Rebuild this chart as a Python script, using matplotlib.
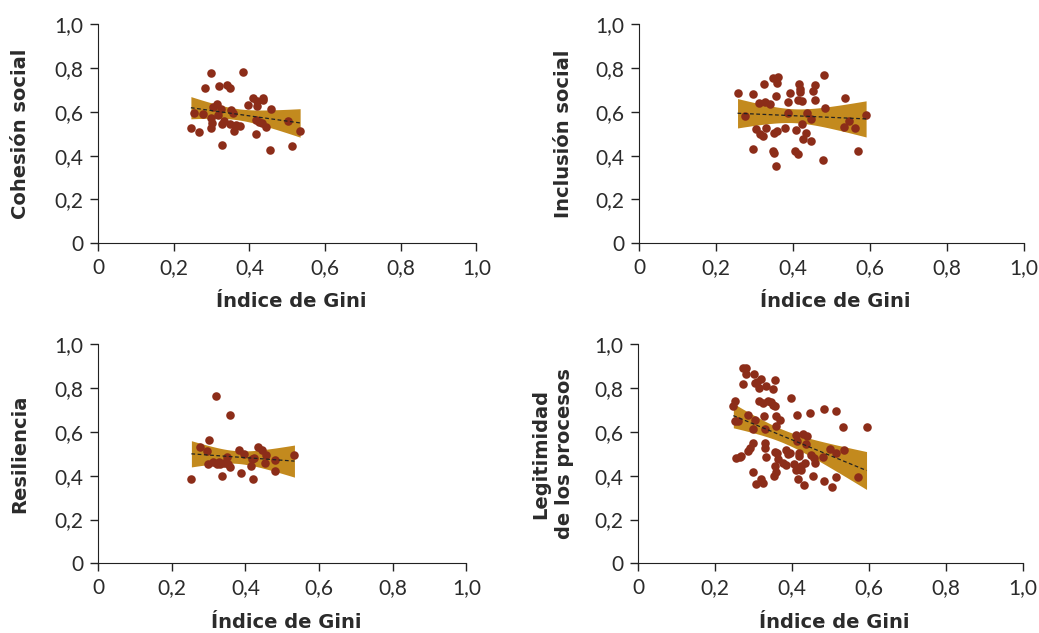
import numpy as np
import matplotlib
matplotlib.use("Agg")
import matplotlib.pyplot as plt

# Datos (Índice de Gini vs. dimensión)
cohesion_gini = [0.245, 0.253, 0.267, 0.278, 0.282, 0.299, 0.297, 0.299, 0.302, 0.303,
                 0.313, 0.319, 0.316, 0.324, 0.328, 0.328, 0.333, 0.341, 0.349, 0.349,
                 0.350, 0.357, 0.359, 0.364, 0.375, 0.382, 0.397, 0.410, 0.416, 0.416,
                 0.419, 0.421, 0.426, 0.433, 0.437, 0.436, 0.443, 0.455, 0.457, 0.503,
                 0.513, 0.534]
cohesion_val = [0.524, 0.593, 0.509, 0.590, 0.708, 0.777, 0.574, 0.526, 0.547, 0.620,
                0.638, 0.720, 0.585, 0.611, 0.450, 0.544, 0.559, 0.722, 0.710, 0.544,
                0.608, 0.596, 0.512, 0.538, 0.536, 0.783, 0.631, 0.661, 0.565, 0.500,
                0.626, 0.650, 0.555, 0.547, 0.653, 0.663, 0.532, 0.426, 0.611, 0.559,
                0.442, 0.514]

inclusion_gini = [0.256, 0.276, 0.297, 0.295, 0.305, 0.313, 0.315, 0.323, 0.326, 0.327,
                  0.331, 0.340, 0.347, 0.349, 0.352, 0.350, 0.356, 0.358, 0.357, 0.359,
                  0.361, 0.379, 0.386, 0.387, 0.392, 0.404, 0.407, 0.414, 0.415, 0.414,
                  0.419, 0.419, 0.423, 0.423, 0.427, 0.434, 0.437, 0.446, 0.448, 0.452,
                  0.456, 0.457, 0.477, 0.481, 0.482, 0.532, 0.534, 0.545, 0.562, 0.570,
                  0.590]
inclusion_val = [0.686, 0.581, 0.682, 0.431, 0.522, 0.642, 0.498, 0.489, 0.729, 0.644,
                 0.525, 0.635, 0.755, 0.422, 0.412, 0.505, 0.674, 0.732, 0.352, 0.511,
                 0.760, 0.524, 0.597, 0.644, 0.688, 0.423, 0.519, 0.409, 0.729, 0.653,
                 0.705, 0.689, 0.650, 0.545, 0.475, 0.504, 0.597, 0.568, 0.466, 0.697,
                 0.723, 0.656, 0.379, 0.766, 0.618, 0.533, 0.665, 0.560, 0.524, 0.420,
                 0.586]

resiliencia_gini = [0.253, 0.277, 0.296, 0.302, 0.299, 0.313, 0.319, 0.323, 0.328, 0.331,
                    0.337, 0.342, 0.349, 0.352, 0.357, 0.359, 0.382, 0.388, 0.397, 0.416,
                    0.417, 0.420, 0.424, 0.434, 0.445, 0.454, 0.457, 0.481, 0.481, 0.533]
resiliencia_val = [0.387, 0.530, 0.513, 0.563, 0.454, 0.464, 0.766, 0.452, 0.464, 0.454,
                   0.397, 0.457, 0.487, 0.452, 0.679, 0.440, 0.517, 0.411, 0.501, 0.444,
                   0.475, 0.384, 0.479, 0.530, 0.519, 0.457, 0.495, 0.473, 0.420, 0.496]

legitimidad_gini = [0.247, 0.251, 0.251, 0.255, 0.260, 0.264, 0.268, 0.273, 0.273, 0.281,
                    0.281, 0.286, 0.286, 0.290, 0.297, 0.297, 0.299, 0.300, 0.303, 0.303,
                    0.307, 0.309, 0.313, 0.314, 0.318, 0.320, 0.324, 0.325, 0.327, 0.329,
                    0.329, 0.330, 0.333, 0.333, 0.338, 0.346, 0.351, 0.351, 0.352, 0.354,
                    0.355, 0.356, 0.356, 0.357, 0.359, 0.359, 0.361, 0.364, 0.368, 0.377,
                    0.383, 0.385, 0.390, 0.394, 0.398, 0.405, 0.409, 0.411, 0.413, 0.413,
                    0.416, 0.418, 0.418, 0.422, 0.424, 0.427, 0.430, 0.433, 0.436, 0.439,
                    0.446, 0.448, 0.455, 0.456, 0.459, 0.479, 0.482, 0.482, 0.498, 0.504,
                    0.513, 0.514, 0.514, 0.532, 0.534, 0.571, 0.593]
legitimidad_val = [0.720, 0.743, 0.651, 0.482, 0.650, 0.487, 0.490, 0.817, 0.890, 0.893,
                   0.865, 0.677, 0.514, 0.525, 0.548, 0.615, 0.419, 0.865, 0.654, 0.822,
                   0.362, 0.830, 0.801, 0.743, 0.384, 0.842, 0.368, 0.731, 0.673, 0.548,
                   0.525, 0.612, 0.487, 0.810, 0.741, 0.735, 0.796, 0.723, 0.400, 0.837,
                   0.510, 0.720, 0.446, 0.417, 0.673, 0.627, 0.502, 0.475, 0.654, 0.460,
                   0.518, 0.447, 0.499, 0.502, 0.756, 0.454, 0.426, 0.586, 0.677, 0.560,
                   0.384, 0.505, 0.490, 0.444, 0.426, 0.591, 0.358, 0.460, 0.545, 0.581,
                   0.685, 0.493, 0.399, 0.479, 0.457, 0.484, 0.706, 0.374, 0.524, 0.350,
                   0.696, 0.504, 0.394, 0.624, 0.517, 0.393, 0.624]

ticks = [0, 0.2, 0.4, 0.6, 0.8, 1.0]
tick_labels = ["0", "0,2", "0,4", "0,6", "0,8", "1,0"]

punto_color = "#8c2d19"
banda_color = "#c38a1e"
texto_color = "#2b2b2b"

plt.rcParams["font.family"] = ["Lato", "DejaVu Sans"]

fig = plt.figure(figsize=(10.39, 6.33), dpi=100)

# posiciones de cada panel (left, bottom, width, height) + posicion x del titulo del eje y
paneles = [
    ([0.0946, 0.6157, 0.3638, 0.346], cohesion_gini, cohesion_val, "Cohesión social", -0.207),
    ([0.6150, 0.6157, 0.3705, 0.346], inclusion_gini, inclusion_val, "Inclusión social", -0.197),
    ([0.0946, 0.1101, 0.3542, 0.346], resiliencia_gini, resiliencia_val, "Resiliencia", -0.213),
    ([0.6143, 0.1101, 0.3705, 0.346], legitimidad_gini, legitimidad_val,
     "Legitimidad\nde los procesos", -0.222),
]


def ajuste_con_banda(x, y):
    # regresión lineal con intervalo de confianza al 95%
    x = np.asarray(x)
    y = np.asarray(y)
    n = len(x)
    b, a = np.polyfit(x, y, 1)
    resid = y - (a + b * x)
    s = np.sqrt(np.sum(resid ** 2) / (n - 2))
    xs = np.linspace(x.min(), x.max(), 100)
    se = s * np.sqrt(1 / n + (xs - x.mean()) ** 2 / np.sum((x - x.mean()) ** 2))
    ys = a + b * xs
    return xs, ys, ys - 2.0 * se, ys + 2.0 * se


for pos, gx, gy, etiqueta, ylab_x in paneles:
    ax = fig.add_axes(pos)
    xs, ys, lo, hi = ajuste_con_banda(gx, gy)
    ax.fill_between(xs, lo, hi, color=banda_color, lw=0, zorder=1)
    ax.scatter(gx, gy, s=38, color=punto_color, lw=0, zorder=2)
    ax.plot(xs, ys, color="#222222", lw=0.9, ls=(0, (3, 2)), zorder=3)

    ax.set_xlim(0, 1.0)
    ax.set_ylim(0, 1.0)
    ax.set_xticks(ticks)
    ax.set_xticklabels(tick_labels)
    ax.set_yticks(ticks)
    ax.set_yticklabels(tick_labels)
    ax.tick_params(labelsize=15, length=5.5, width=1, color="#222222",
                   labelcolor=texto_color, pad=5)
    ax.spines["top"].set_visible(False)
    ax.spines["right"].set_visible(False)
    ax.spines["left"].set_color("#222222")
    ax.spines["bottom"].set_color("#222222")

    ax.set_xlabel("Índice de Gini", fontsize=14, fontweight="bold", color=texto_color,
                  family="DejaVu Sans")
    ax.xaxis.label.set_va("center")
    ax.xaxis.set_label_coords(0.51, -0.268)

    ax.set_ylabel(etiqueta, fontsize=14, fontweight="bold", color=texto_color,
                  family="DejaVu Sans", linespacing=1.3)
    ax.yaxis.label.set_va("center")
    ax.yaxis.set_label_coords(ylab_x, 0.5)

fig.savefig("out.png", dpi=100)
